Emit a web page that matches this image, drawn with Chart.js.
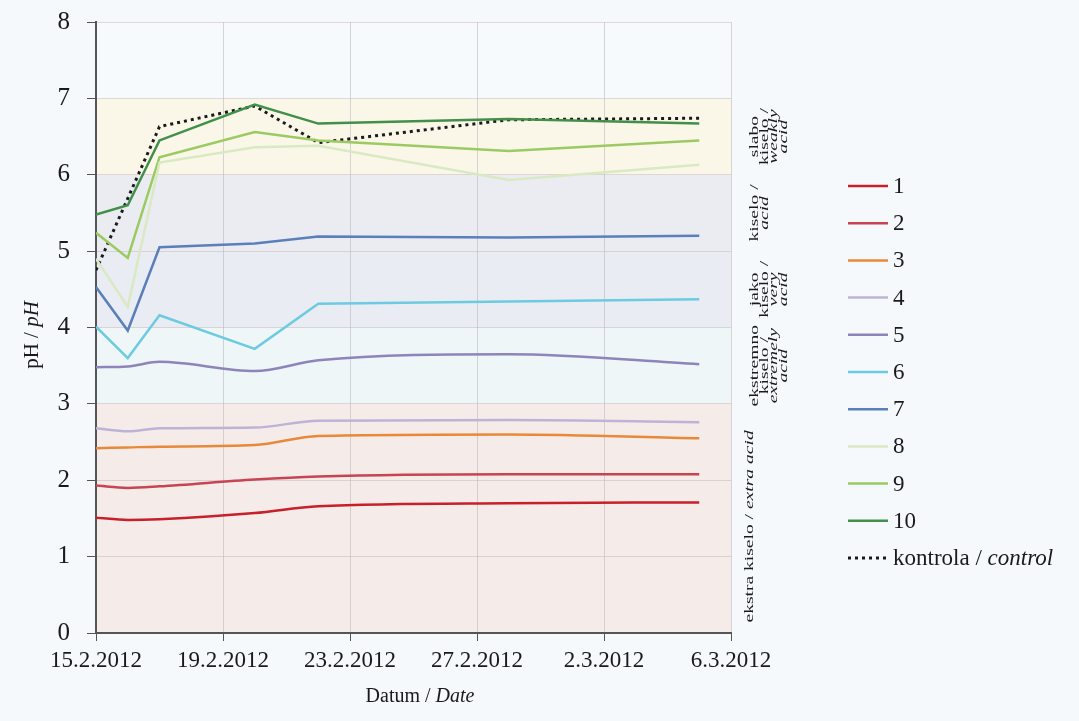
<!DOCTYPE html>
<html lang="hr">
<head>
<meta charset="UTF-8">
<title>pH / pH</title>
<script src="https://cdn.jsdelivr.net/npm/chart.js"></script>
<style>
  html, body { margin:0; padding:0; background:#f5f9fb; }
  #wrap { width:1079px; height:721px; position:relative; }
</style>
</head>
<body>
<div id="wrap"><canvas id="phChart"></canvas></div>
<script>
// days counted from 15.2.2012
const days = [0, 1, 2, 5, 7, 13, 19];
const dateTicks = ['15.2.2012', '19.2.2012', '23.2.2012', '27.2.2012', '2.3.2012', '6.3.2012'];
const seriesNames = ['1', '2', '3', '4', '5', '6', '7', '8', '9', '10', 'kontrola / _control_'];

const ph1  = [1.51, 1.48, 1.49, 1.57, 1.66, 1.70, 1.71];
const ph2  = [1.93, 1.90, 1.92, 2.01, 2.05, 2.08, 2.08];
const ph3  = [2.42, 2.43, 2.44, 2.46, 2.58, 2.60, 2.55];
const ph4  = [2.68, 2.64, 2.68, 2.69, 2.78, 2.79, 2.76];
const ph5  = [3.48, 3.49, 3.55, 3.43, 3.57, 3.65, 3.52];
const ph6  = [4.01, 3.60, 4.16, 3.72, 4.31, 4.34, 4.37];
const ph7  = [4.53, 3.96, 5.05, 5.10, 5.19, 5.18, 5.20];
const ph8  = [4.90, 4.27, 6.16, 6.36, 6.38, 5.93, 6.13];
const ph9  = [5.24, 4.91, 6.23, 6.56, 6.45, 6.31, 6.45];
const ph10 = [5.48, 5.60, 6.45, 6.92, 6.67, 6.73, 6.67];
const phControl = [4.75, null, 6.63, 6.90, 6.42, 6.72, 6.74];
const allSeries = [ph1, ph2, ph3, ph4, ph5, ph6, ph7, ph8, ph9, ph10, phControl];

// acidity classes on the pH axis
const bandFrom = [0, 3, 4, 5, 6, 7];
const bandTo   = [3, 4, 5, 6, 7, 8];
const bandText = [
  ['ekstra kiselo / _extra acid_'],
  ['ekstremno', 'kiselo /', '_extremely_', '_acid_'],
  ['jako', 'kiselo /', '_very_', '_acid_'],
  ['kiselo /', '_acid_'],
  ['slabo', 'kiselo /', '_weakly_', '_acid_'],
  []
];

const lineColors = ['#c8202a', '#c84452', '#e8893a', '#bdb3d6', '#8d84b9', '#6ccbe0',
                    '#5b7fb9', '#d9e9c2', '#9acb62', '#428f4a', '#1a1a1a'];
const bandColors = ['#f5ece9', '#eef6f8', '#e9ecf2', '#ebecf2', '#faf7e9', '#f7fafc'];
const SERIF = '"Liberation Serif", "Times New Roman", serif';

function drawRich(ctx, str, x, y, size, align) {
  const parts = str.split('_');
  let total = 0;
  parts.forEach((p, i) => { ctx.font = (i % 2 ? 'italic ' : '') + size + 'px ' + SERIF; total += ctx.measureText(p).width; });
  let cx = align === 'center' ? x - total / 2 : x;
  ctx.textBaseline = 'middle'; ctx.textAlign = 'left'; ctx.fillStyle = '#1a1a1a';
  parts.forEach((p, i) => {
    ctx.font = (i % 2 ? 'italic ' : '') + size + 'px ' + SERIF;
    ctx.fillText(p, cx, y);
    cx += ctx.measureText(p).width;
  });
}

const decor = {
  id: 'decor',
  beforeDraw(chart) {
    const { ctx, chartArea: a, scales: { y } } = chart;
    ctx.save();
    ctx.fillStyle = '#f5f9fb';
    ctx.fillRect(0, 0, chart.width, chart.height);
    bandFrom.forEach((f, i) => {
      const top = y.getPixelForValue(bandTo[i]), bot = y.getPixelForValue(f);
      ctx.fillStyle = bandColors[i];
      ctx.fillRect(a.left, top, a.right - a.left, bot - top);
    });
    ctx.restore();
  },
  afterDraw(chart) {
    const { ctx, chartArea: a, scales: { y } } = chart;
    // class labels, rotated, right of the plot
    bandText.forEach((lines, i) => {
      if (!lines.length) return;
      const single = lines.length === 1;
      const cy = y.getPixelForValue((bandFrom[i] + bandTo[i]) / 2) + (single ? 8 : 0);
      const x0 = a.right + (single ? 19 : 24);
      lines.forEach((ln, j) => {
        ctx.save();
        ctx.translate(x0 + j * 9.6, cy);
        ctx.rotate(-Math.PI / 2);
        ctx.scale(1.7, 1);
        drawRich(ctx, ln, 0, 0, 11.5, 'center');
        ctx.restore();
      });
    });
    // legend
    const lx = a.right + 117, ly0 = a.top + 164, step = 37.2;
    chart.data.datasets.forEach((ds, i) => {
      const ly = ly0 + i * step;
      ctx.save();
      ctx.strokeStyle = ds.borderColor; ctx.lineWidth = ds.borderWidth;
      ctx.setLineDash(ds.borderDash || []);
      ctx.beginPath(); ctx.moveTo(lx, ly); ctx.lineTo(lx + 40, ly); ctx.stroke();
      ctx.restore();
      drawRich(ctx, ds.label, lx + 45, ly + 1, 23, 'left');
    });
    // axis titles
    ctx.save();
    ctx.translate(32, 335); ctx.rotate(-Math.PI / 2);
    drawRich(ctx, 'pH / _pH_', 0, 0, 21, 'center');
    ctx.restore();
    drawRich(ctx, 'Datum / _Date_', 420, 697, 20, 'center');
  }
};

const datasets = allSeries.map((vals, i) => ({
  label: seriesNames[i],
  data: days.map((d, k) => ({ x: d, y: vals[k] })),
  borderColor: lineColors[i],
  borderWidth: i === 10 ? 3 : 2.5,
  borderDash: i === 10 ? [3, 4] : undefined,
  cubicInterpolationMode: i < 5 ? 'monotone' : 'default',
  tension: i < 5 ? 0.4 : 0,
  spanGaps: true,
  pointRadius: 0,
  fill: false
}));

new Chart(document.getElementById('phChart'), {
  type: 'line',
  data: { datasets },
  plugins: [decor],
  options: {
    responsive: true,
    maintainAspectRatio: false,
    animation: false,
    layout: { padding: { top: 22, right: 348, bottom: 0, left: 0 } },
    plugins: { legend: { display: false }, tooltip: { enabled: false } },
    scales: {
      x: {
        type: 'linear', min: 0, max: 20,
        afterFit(s) { s.height = 88; s.paddingLeft = 0; s.paddingRight = 0; },
        ticks: {
          stepSize: 4, maxRotation: 0, autoSkip: false, padding: 6,
          color: '#1a1a1a', font: { family: SERIF, size: 23 },
          callback: v => dateTicks[Math.round(v / 4)]
        },
        grid: { color: 'rgba(185,180,188,0.55)', tickColor: '#555', tickLength: 8, lineWidth: 1 },
        border: { color: '#555', width: 2 }
      },
      y: {
        min: 0, max: 8,
        afterFit(s) { s.width = 96; s.paddingTop = 0; s.paddingBottom = 0; },
        ticks: { stepSize: 1, padding: 17, color: '#1a1a1a', font: { family: SERIF, size: 25 } },
        grid: { color: 'rgba(200,180,180,0.5)', tickColor: '#555', tickLength: 9, lineWidth: 1 },
        border: { color: '#555', width: 2 }
      }
    }
  }
});
</script>
</body>
</html>
